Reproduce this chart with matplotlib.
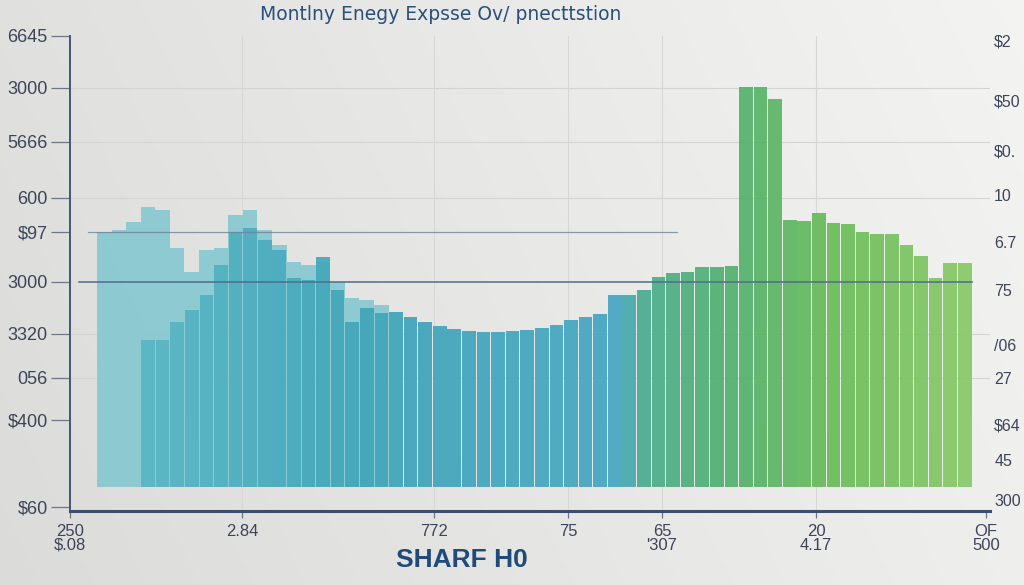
import numpy as np
import matplotlib
matplotlib.use("Agg")
import matplotlib.pyplot as plt
from matplotlib.colors import LinearSegmentedColormap

# ---------------- data ----------------
title = "Montlny Enegy Expsse Ov/ pnecttstion"
xlabel = "SHARF H0"

# front (current) series, bar tops in chart units (None = no bar)
front_values = [None, None, None, 171, 171, 189, 201, 216, 246, 279,
                283, 271, 261, 233, 231, 254, 221, 189, 203, 198,
                199, 194, 189, 185, 182, 180, 179, 179, 180, 181,
                183, 186, 191, 194, 197, 216, 216, 221, 234, 238,
                239, 244, 244, 245, 424, 424, 412, 291, 290, 298,
                288, 287, 279, 277, 277, 266, 255, 233, 248, 248]
# back (previous) series, lighter layer
back_values = [279, 281, 289, 304, 301, 263, 239, 261, 263, 296,
               301, 281, 266, 249, 246, 249, 229, 213, 211, 206]
base_value = 24

left_tick_vals = [475, 423, 369, 313, 279, 229, 177, 133, 91, 4]
left_tick_labels = ["6645", "3000", "5666", "600", "$97", "3000", "3320", "056", "$400", "$60"]
right_tick_vals = [471, 411, 361, 316, 269, 221, 166, 133, 86, 51, 11]
right_tick_labels = ["$2", "$50", "$0.", "10", "6.7", "75", "/06", "27", "$64", "45", "300"]
x_tick_pos = [-2.35, 9.44, 22.61, 31.80, 38.24, 48.80, 60.46]
x_tick_labels = ["250\n$.08", "2.84", "772", "75", "65\n'307", "20\n4.17", "OF\n500"]

W, H, DPI = 1024, 585, 100
fig = plt.figure(figsize=(W / DPI, H / DPI), dpi=DPI)
label_font = "Liberation Sans"

# background gradient
bg = fig.add_axes([0, 0, 1, 1], zorder=-10)
gx = np.linspace(0, 1, 256)
gy = np.linspace(0, 1, 128)
G = 0.86 + 0.075 * gx[None, :] + 0.02 * gy[:, None]
bg.imshow(np.dstack([G, G + 0.003, G - 0.004]).clip(0, 1), aspect="auto",
          extent=[0, 1, 0, 1], origin="lower")
bg.axis("off")

ax = fig.add_axes([70 / W, (H - 511) / H, 920 / W, (511 - 36) / H])
ax.set_facecolor("none")

n = len(front_values)
cmap = LinearSegmentedColormap.from_list(
    "tg", [(0.0, "#5fb9c6"), (0.3, "#42a6b9"), (0.6, "#4aa7c2"),
           (0.63, "#4fae8e"), (0.73, "#55b271"), (0.85, "#6dbd5c"), (1.0, "#8ac96a")])

# back layer
bx = np.arange(len(back_values))
ax.bar(bx, np.array(back_values) - base_value, bottom=base_value, width=1.0,
       color="#7fc6cf", alpha=0.85, linewidth=0, zorder=2)

# front bars
for i, v in enumerate(front_values):
    if v is None:
        continue
    ax.bar(i, v - base_value, bottom=base_value, width=0.94,
           color=cmap(i / (n - 1)), edgecolor="none", zorder=3, alpha=0.95)

# reference lines
ax.axhline(279, xmin=0.02, xmax=0.66, color="#6f8499", lw=0.9, zorder=4, alpha=0.8)
ax.axhline(229, xmin=0.01, xmax=0.98, color="#4f6d8c", lw=1.1, zorder=4)
for yv in [423, 369, 313, 177, 133]:
    ax.axhline(yv, color="#d2d5d6", lw=0.8, zorder=1)
for xv in x_tick_pos[1:-1]:
    ax.axvline(xv, color="#d6d8d8", lw=0.8, zorder=1)

ax.set_xlim(-2.351, 60.734)
ax.set_ylim(0, 475)

for s in ["top", "right"]:
    ax.spines[s].set_visible(False)
ax.spines["left"].set_color("#43557a")
ax.spines["left"].set_linewidth(1.4)
ax.spines["bottom"].set_color("#3e4d6e")
ax.spines["bottom"].set_linewidth(2.2)

ax.set_yticks(left_tick_vals)
ax.set_yticklabels(left_tick_labels)
ax.tick_params(axis="y", length=14, width=0.9, color="#6c7686", pad=2,
               labelsize=13, labelcolor="#3c4458")
for t in ax.get_yticklabels():
    t.set_fontfamily(label_font)

ax.set_xticks(x_tick_pos)
ax.set_xticklabels(x_tick_labels, linespacing=0.95)
ax.tick_params(axis="x", length=5, width=0.9, color="#6c7686", pad=4,
               labelsize=12, labelcolor="#3c4458")
for t in ax.get_xticklabels():
    t.set_fontfamily(label_font)

# right axis
ax2 = ax.twinx()
ax2.set_position(ax.get_position())
ax2.set_ylim(ax.get_ylim())
for s in ax2.spines.values():
    s.set_visible(False)
ax2.set_yticks(right_tick_vals)
ax2.set_yticklabels(right_tick_labels)
ax2.tick_params(axis="y", length=0, pad=3, labelsize=11.5, labelcolor="#3c4458")
for t in ax2.get_yticklabels():
    t.set_fontfamily(label_font)

fig.text(441 / W, 1 - 15 / H, title, ha="center", va="center",
         fontsize=13.5, color="#2b4f7a")
fig.text(462 / W, 1 - 560 / H, xlabel, ha="center", va="center",
         fontsize=19, fontweight="bold", color="#1f4a7a", family=label_font)

fig.savefig("out.png", dpi=DPI)
